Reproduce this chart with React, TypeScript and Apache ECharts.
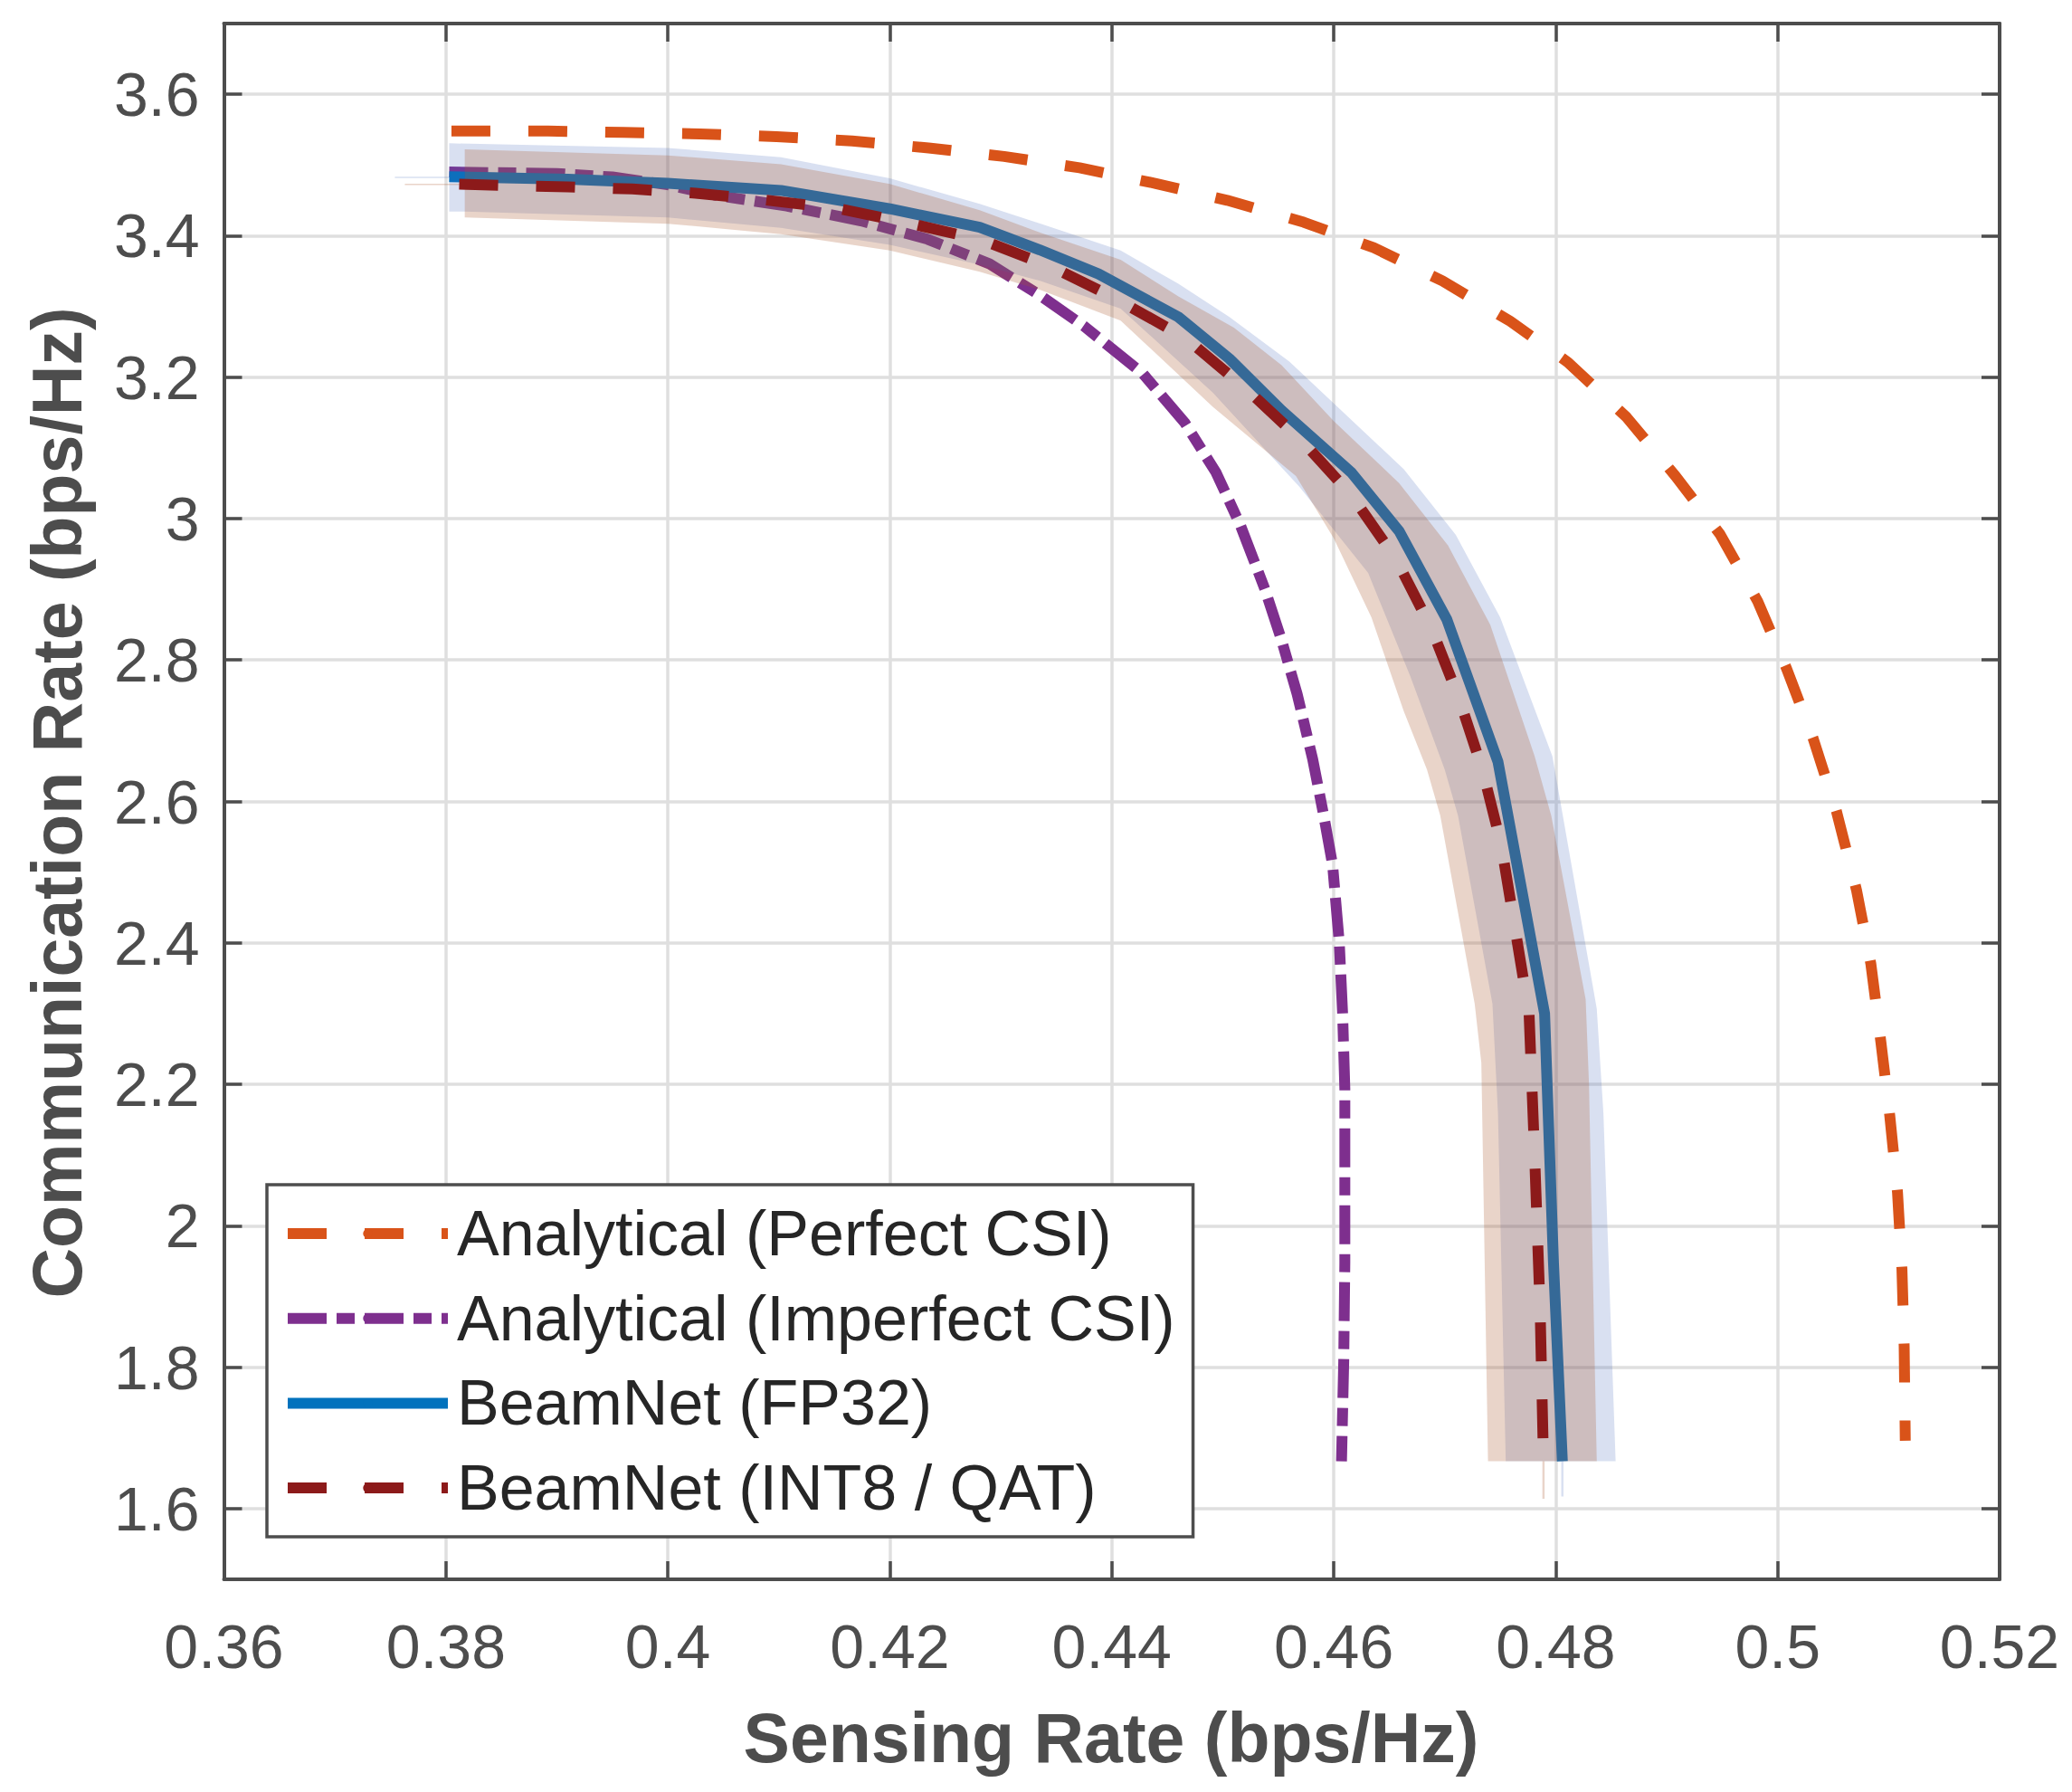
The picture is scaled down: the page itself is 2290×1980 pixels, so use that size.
import React, { useEffect, useRef } from "react";
import * as echarts from "echarts";

// ---------------- data ----------------
const seriesNames = [
  "Analytical (Perfect CSI)",
  "Analytical (Imperfect CSI)",
  "BeamNet (FP32)",
  "BeamNet (INT8 / QAT)",
];

const xTicks = [0.36, 0.38, 0.4, 0.42, 0.44, 0.46, 0.48, 0.5, 0.52];
const yTicks = [1.6, 1.8, 2, 2.2, 2.4, 2.6, 2.8, 3, 3.2, 3.4, 3.6];
const yRange = [1.5, 3.7];

const perfectCSI = [
  [0.3805, 3.548], [0.3892, 3.548], [0.396, 3.546], [0.4029, 3.544], [0.4098, 3.54],
  [0.4166, 3.534], [0.4235, 3.524], [0.4303, 3.512], [0.4371, 3.496], [0.4439, 3.474],
  [0.4504, 3.45], [0.4573, 3.419], [0.4636, 3.383], [0.4698, 3.336], [0.4759, 3.279],
  [0.4811, 3.221], [0.4864, 3.143], [0.4908, 3.06], [0.4948, 2.978], [0.4982, 2.883],
  [0.5008, 2.788], [0.5032, 2.689], [0.5053, 2.586], [0.5071, 2.475], [0.5084, 2.37],
  [0.5093, 2.26], [0.5101, 2.156], [0.5108, 2.047], [0.5112, 1.938], [0.5114, 1.829],
  [0.5115, 1.696],
];

const imperfectCSI = [
  [0.3803, 3.49], [0.39, 3.488], [0.395, 3.483], [0.4, 3.472], [0.4042, 3.4575],
  [0.4107, 3.442], [0.4174, 3.421], [0.4234, 3.395], [0.429, 3.36], [0.4335, 3.316],
  [0.4375, 3.272], [0.4428, 3.205], [0.4466, 3.135], [0.4494, 3.065], [0.4516, 2.99],
  [0.4538, 2.9], [0.4553, 2.828], [0.4567, 2.752], [0.4581, 2.66], [0.4591, 2.58],
  [0.4599, 2.51], [0.4605, 2.4], [0.4608, 2.3], [0.461, 2.194], [0.461, 2.089],
  [0.461, 1.948], [0.4609, 1.808], [0.4607, 1.667],
];

const beamNetFP32 = [
  [0.3803, 3.4835], [0.391, 3.48], [0.4, 3.474], [0.4102, 3.464], [0.42, 3.438],
  [0.4281, 3.412], [0.4335, 3.38], [0.4388, 3.346], [0.446, 3.285], [0.4506, 3.226],
  [0.4553, 3.153], [0.4616, 3.065], [0.4659, 2.982], [0.4702, 2.857], [0.4748, 2.656],
  [0.479, 2.3], [0.4798, 1.948], [0.4806, 1.667],
];

const beamNetINT8 = [
  [0.3812, 3.4728], [0.3863, 3.4707], [0.391, 3.469], [0.3968, 3.466], [0.4025, 3.46],
  [0.4085, 3.451], [0.4153, 3.4385], [0.4219, 3.417], [0.4283, 3.394], [0.4347, 3.355],
  [0.44, 3.314], [0.4466, 3.256], [0.4522, 3.182], [0.4572, 3.109], [0.4616, 3.033],
  [0.4656, 2.943], [0.4688, 2.845], [0.4713, 2.745], [0.4734, 2.645], [0.4751, 2.538],
  [0.4776, 2.3], [0.4781, 2.1], [0.4786, 1.88], [0.4789, 1.667],
];

// shaded spread bands (outer = upper/right edge, inner = lower/left edge)
const fp32BandOuter = [
  [0.3803, 3.5306], [0.4, 3.524], [0.4102, 3.511], [0.42, 3.481], [0.4281, 3.445],
  [0.4336, 3.417], [0.4408, 3.379], [0.446, 3.332], [0.4506, 3.285], [0.456, 3.222],
  [0.4663, 3.07], [0.471, 2.977], [0.475, 2.86], [0.4797, 2.664], [0.4837, 2.307],
  [0.4843, 2.159], [0.4854, 1.667], [0.4807, 1.667], [0.4807, 1.617], [0.4805, 1.617],
  [0.4805, 1.667],
];
const fp32BandInner = [
  [0.3803, 3.4835], [0.3754, 3.4835], [0.3754, 3.4815], [0.3803, 3.4815], [0.3803, 3.434],
  [0.3817, 3.434], [0.4, 3.4257], [0.4102, 3.411], [0.42, 3.387], [0.4281, 3.359],
  [0.4336, 3.336], [0.4408, 3.297], [0.4491, 3.178], [0.4569, 3.045], [0.4631, 2.923],
  [0.4669, 2.777], [0.47, 2.645], [0.4712, 2.58], [0.4743, 2.314], [0.4748, 2.159],
  [0.4755, 1.667],
];
const int8BandOuter = [
  [0.3817, 3.522], [0.4, 3.5135], [0.4102, 3.501], [0.42, 3.473], [0.4281, 3.436],
  [0.4336, 3.404], [0.4408, 3.366], [0.446, 3.314], [0.451, 3.27], [0.4553, 3.217],
  [0.46, 3.138], [0.4659, 3.05], [0.4703, 2.962], [0.4741, 2.85], [0.4781, 2.664],
  [0.4796, 2.58], [0.4827, 2.32], [0.483, 2.2], [0.4837, 1.667], [0.479, 1.667],
  [0.479, 1.614], [0.4788, 1.614], [0.4788, 1.667],
];
const int8BandInner = [
  [0.3817, 3.4735], [0.3763, 3.4735], [0.3763, 3.4715], [0.3817, 3.4715], [0.3817, 3.4257],
  [0.4, 3.417], [0.4102, 3.402], [0.42, 3.379], [0.4281, 3.349], [0.4336, 3.323],
  [0.4408, 3.28], [0.4491, 3.158], [0.4566, 3.06], [0.46, 2.972], [0.4634, 2.86],
  [0.4663, 2.728], [0.4684, 2.645], [0.4696, 2.58], [0.4727, 2.314], [0.4733, 2.23],
  [0.4739, 1.667],
];

// ---------------- styling ----------------
const FONT = "'Liberation Sans', Arial, Helvetica, sans-serif";
const AXIS_COLOR = "#4d4d4d";
const GRID_COLOR = "#dfdfdf";
const C_ORANGE = "#D95319";
const C_PURPLE = "#7E2F8E";
const C_BLUE = "#0072BD";
const C_RED = "#8C1A1A";
const C_BAND_BLUE = "rgba(65,100,185,0.2)";
const C_BAND_TAN = "rgba(170,90,47,0.26)";

function bandSeries(name: string, outer: number[][], inner: number[][], color: string, z: number) {
  const polygon = outer.concat(inner.slice().reverse());
  return {
    type: "custom",
    name,
    silent: true,
    z,
    data: polygon,
    clip: false,
    renderItem: (params: any, api: any) => {
      if (params.dataIndex !== 0) return null;
      const pts = polygon.map((p) => api.coord(p));
      return {
        type: "polygon",
        shape: { points: pts },
        style: { fill: color, stroke: null },
      };
    },
  };
}

function lineSeries(name: string, data: number[][], color: string, type: any, z: number, width = 12) {
  return {
    type: "line",
    name,
    data,
    z,
    symbol: "none",
    showSymbol: false,
    silent: true,
    smooth: false,
    lineStyle: { color, width, type, cap: "butt", join: "round" },
    itemStyle: { color },
  };
}

export default function App() {
  const ref = useRef<HTMLDivElement>(null);

  useEffect(() => {
    if (!ref.current) return;
    const chart = echarts.init(ref.current, undefined, { renderer: "svg" });

    const xMin = xTicks[0];
    const xMax = xTicks[xTicks.length - 1];

    const commonX = {
      type: "value",
      min: xMin,
      max: xMax,
      interval: 0.02,
    };
    const commonY = {
      type: "value",
      min: yRange[0],
      max: yRange[1],
      splitNumber: 11,
    };

    const option: any = {
      animation: false,
      backgroundColor: "#ffffff",
      textStyle: { fontFamily: FONT },
      grid: {
        left: 247.5,
        right: 80,
        top: 26,
        bottom: 235,
        containLabel: false,
        outerBoundsMode: "none",
      },
      xAxis: [
        {
          ...commonX,
          position: "bottom",
          axisLine: { show: true, onZero: false, lineStyle: { color: AXIS_COLOR, width: 4 } },
          axisTick: { show: true, inside: true, length: 20, lineStyle: { color: AXIS_COLOR, width: 3.5 } },
          axisLabel: {
            show: true,
            margin: 40,
            color: AXIS_COLOR,
            fontSize: 68,
            fontFamily: FONT,
            formatter: (v: number) => String(parseFloat(v.toFixed(4))),
          },
          splitLine: { show: true, lineStyle: { color: GRID_COLOR, width: 3.5 } },
        },
        {
          ...commonX,
          position: "top",
          axisLine: { show: true, onZero: false, lineStyle: { color: AXIS_COLOR, width: 4 } },
          axisTick: { show: true, inside: true, length: 20, lineStyle: { color: AXIS_COLOR, width: 3.5 } },
          axisLabel: { show: false },
          splitLine: { show: false },
        },
      ],
      yAxis: [
        {
          ...commonY,
          position: "left",
          axisLine: { show: true, onZero: false, lineStyle: { color: AXIS_COLOR, width: 4 } },
          axisTick: { show: true, inside: true, length: 20, lineStyle: { color: AXIS_COLOR, width: 3.5 } },
          axisLabel: {
            show: true,
            margin: 27,
            color: AXIS_COLOR,
            fontSize: 68,
            fontFamily: FONT,
            showMinLabel: false,
            showMaxLabel: false,
            formatter: (v: number) => {
              const r = parseFloat(v.toFixed(4));
              return yTicks.indexOf(r) >= 0 ? String(r) : "";
            },
          },
          splitLine: { show: true, lineStyle: { color: GRID_COLOR, width: 3.5 } },
        },
        {
          ...commonY,
          position: "right",
          axisLine: { show: true, onZero: false, lineStyle: { color: AXIS_COLOR, width: 4 } },
          axisTick: { show: true, inside: true, length: 20, lineStyle: { color: AXIS_COLOR, width: 3.5 } },
          axisLabel: { show: false },
          splitLine: { show: false },
        },
      ],
      legend: {
        data: seriesNames,
        orient: "vertical",
        left: 295,
        top: 1309,
        z: 20,
        padding: [14, 20, 14, 17],
        itemWidth: 177,
        itemHeight: 13,
        itemGap: 13.7,
        selectedMode: false,
        backgroundColor: "#ffffff",
        borderColor: AXIS_COLOR,
        borderWidth: 3.5,
        borderRadius: 0,
        lineStyle: { width: 12 },
        textStyle: {
          fontSize: 70,
          fontFamily: FONT,
          color: "#262626",
          lineHeight: 80,
          padding: [0, 0, 0, 5],
        },
      },
      graphic: [
        {
          type: "text",
          x: 1228,
          y: 1920,
          silent: true,
          style: {
            text: "Sensing Rate (bps/Hz)",
            fontSize: 77,
            fontWeight: "bold",
            fontFamily: FONT,
            fill: AXIS_COLOR,
            align: "center",
            verticalAlign: "middle",
            textAlign: "center",
            textVerticalAlign: "middle",
          },
        },
        {
          type: "text",
          x: 62.5,
          y: 887,
          rotation: Math.PI / 2,
          silent: true,
          style: {
            text: "Communication Rate (bps/Hz)",
            fontSize: 77,
            fontWeight: "bold",
            fontFamily: FONT,
            fill: AXIS_COLOR,
            align: "center",
            verticalAlign: "middle",
            textAlign: "center",
            textVerticalAlign: "middle",
          },
        },
      ],
      series: [
        lineSeries(seriesNames[1], imperfectCSI, C_PURPLE, [43, 11, 20, 11], 2),
        lineSeries(seriesNames[2], beamNetFP32, C_BLUE, "solid", 3),
        bandSeries("FP32 spread", fp32BandOuter, fp32BandInner, C_BAND_BLUE, 4),
        bandSeries("INT8 spread", int8BandOuter, int8BandInner, C_BAND_TAN, 5),
        lineSeries(seriesNames[3], beamNetINT8, C_RED, [43, 42], 6),
        lineSeries(seriesNames[0], perfectCSI, C_ORANGE, [43, 42], 7),
      ],
    };

    chart.setOption(option);
    return () => {
      chart.dispose();
    };
  }, []);

  return (
    <div
      ref={ref}
      style={{ position: "absolute", left: 0, top: 0, width: 2290, height: 1980, background: "#fff" }}
    />
  );
}
